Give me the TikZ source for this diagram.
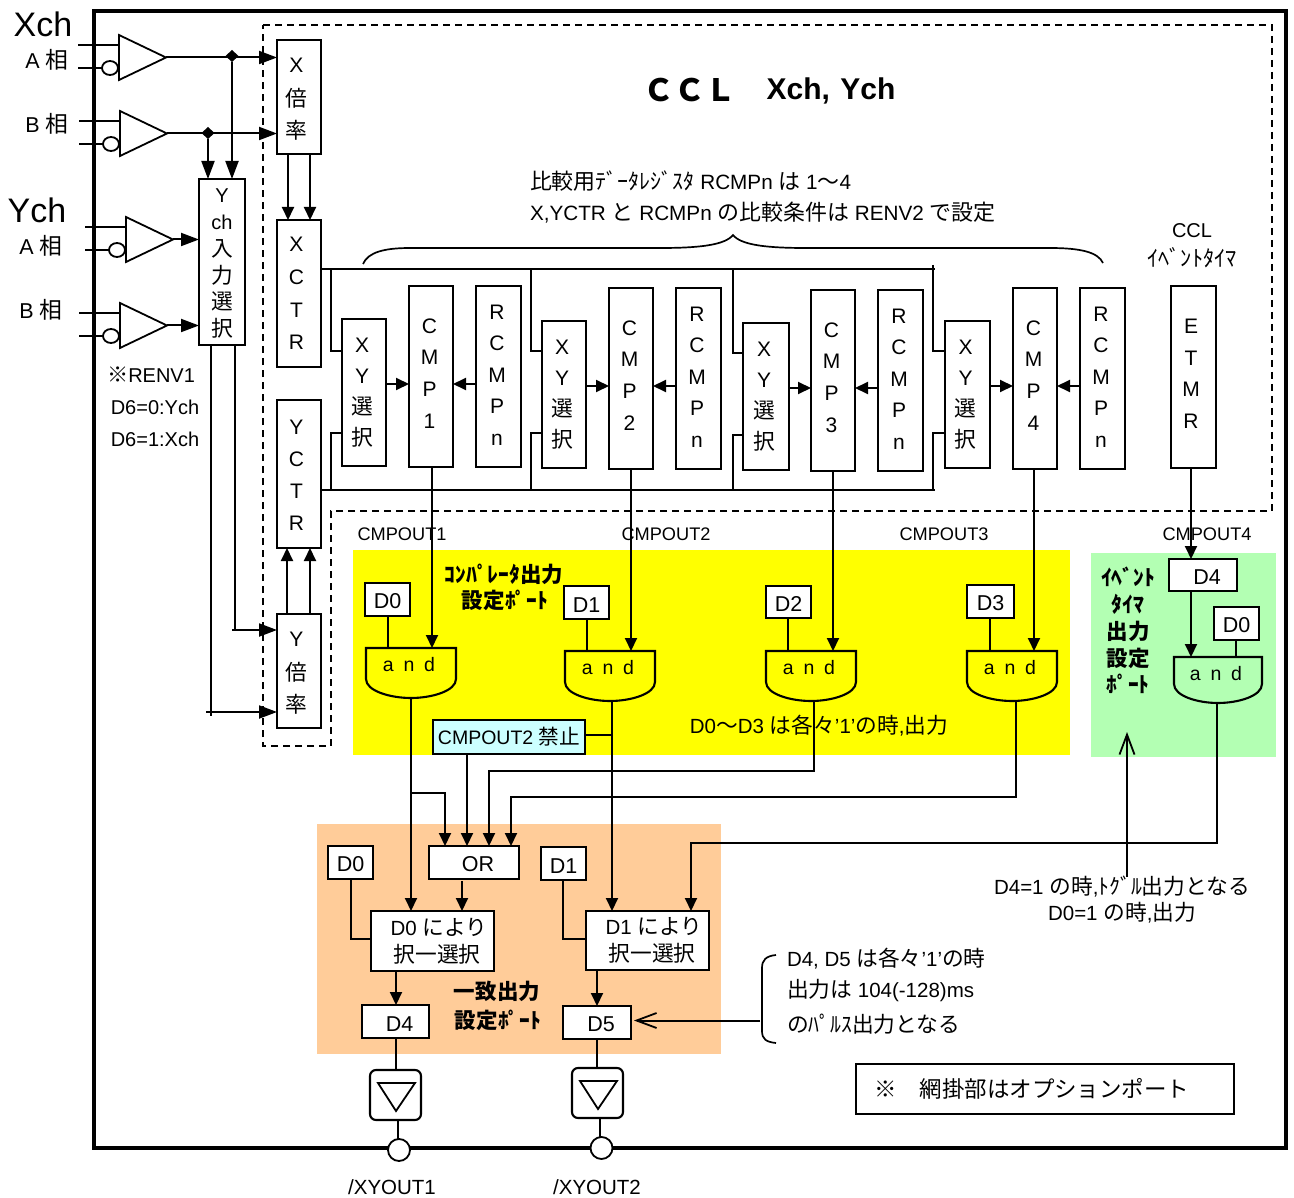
\documentclass[tikz,border=0pt]{standalone}
\usepackage{fontspec}
\setmainfont{Liberation Sans}
\newfontfamily\jp[Scale=1.06]{Noto Sans CJK JP}
\usetikzlibrary{arrows.meta,shapes.geometric,calc}
\definecolor{yelpad}{RGB}{255,255,0}
\definecolor{evgreen}{RGB}{179,255,179}
\definecolor{orangepad}{RGB}{255,204,153}
\definecolor{lightcy}{RGB}{204,255,255}
\newcommand\J[1]{{\jp #1}}
\newcommand\K[1]{{\jp\fontsize{20.5}{21}\selectfont #1}}
\newcommand\fs[2]{\fontsize{#1}{#2}\selectfont}
\newcommand\Zk[1]{\kern#1pt\relax}
\newcommand\Zt[1]{\rule{0pt}{#1pt}}
\newcommand\Zb[1]{\rule[-#1pt]{0pt}{#1pt}}
\tikzset{
  ta/.tip={Triangle[length=13pt,width=12pt]},
  tb/.tip={Triangle[length=18pt,width=13pt]},
  topen/.tip={Straight Barb[length=20pt,width=15pt,line width=1.8pt]},
  box/.style={draw,fill=white,line width=2.1pt,inner sep=0pt,outer sep=0pt},
  stk/.style={align=center,font=\fs{21}{32}},
  tx/.style={inner sep=0pt,outer sep=0pt,align=center,font=\fs{20.5}{22}},
  txl/.style={tx,anchor=west},
  hd/.style={inner sep=0pt,outer sep=0pt,font=\fs{20.3}{22}\bfseries},
  wire/.style={line width=2pt},
  dashbox/.style={line width=1.7pt,dash pattern=on 7pt off 5pt},
  gatebody/.style={line width=2.1pt,draw},
  hold/.style={inner sep=0pt,outer sep=0pt,rectangle},
  buf/.style={line width=1.8pt,draw,fill=white},
  bub/.style={draw,ellipse,line width=1.8pt,fill=white,minimum width=16pt,minimum height=14pt,inner sep=0pt,outer sep=0pt},
  jn/.style={diamond,fill=black,inner sep=0pt,outer sep=0pt,minimum width=13pt,minimum height=12pt},
  pad/.style={draw,circle,line width=1.8pt,fill=white,minimum size=22pt,inner sep=0pt,outer sep=0pt},
}
\newcommand\bx[7][]{\node[box,#1,minimum width={(#4-#2)*1pt},minimum height={(#5-#3)*1pt}] (#6) at ({(#2+#4)/2},{(#3+#5)/2}) {#7};}
% and gate: name, left x, top y, fill, width, height
\newcommand\gate[6]{%
  \path[gatebody,fill=#4] (#2,#3) -- (#2+#5,#3) -- (#2+#5,#3+#6-19) .. controls (#2+#5,#3+#6-7) and (#2+#5*0.73,#3+#6) .. (#2+#5/2,#3+#6) .. controls (#2+#5*0.27,#3+#6) and (#2,#3+#6-7) .. (#2,#3+#6-19) -- cycle;
  \node[hold,minimum width=#5 pt,minimum height=#6 pt] (#1) at (#2+#5/2,#3+#6/2) {};
  \node[tx,font=\fs{19.5}{20}] (#1t) at (#2+#5/2-2,#3+17) {a\hspace{.5em}n\hspace{.5em}d};
}
% buffer triangle: top-left x,y with two inputs
\newcommand\buff[4]{%
  \path[buf] (#2,#3) -- (#2+47,#3+22.5) -- (#2,#3+45) -- cycle;
  \coordinate (#1) at (#2+47,#3+22.5);
  \node[bub] (#1b) at (#2-9,#3+33) {};
  \coordinate (#1p) at (#4,#3+10);
  \coordinate (#1n) at (#4,#3+33);
  \draw[line width=1.7pt] (#1p) -- (#2,#3+10);
  \draw[line width=1.7pt] (#1n) -- (#1b.west);
}
% output driver
\newcommand\drv[3]{%
  \node[draw,rounded corners=6pt,line width=2.1pt,fill=white,minimum width=51pt,minimum height=50pt,inner sep=0pt,outer sep=0pt] (#1) at (#2+25.5,#3+25) {};
  \path[line width=1.8pt,draw] (#2+8,#3+13) -- (#2+45,#3+13) -- (#2+26,#3+41) -- cycle;
}
\begin{document}
\begin{tikzpicture}[x=1pt,y=-1pt]
\useasboundingbox (0,0) rectangle (1294,1198);
% shaded regions
\fill[yelpad] (353,550) rectangle (1070,755);
\fill[evgreen] (1091,553) rectangle (1276,757);
\fill[orangepad] (317,824) rectangle (721,1054);
% CCL dashed outline
\draw[dashbox] (263,25) -- (1272,25) -- (1272,511) -- (331,511) -- (331,746) -- (263,746) -- cycle;
% outer frame
\draw[line width=4.5pt] (94,11) rectangle (1286,1148);
% titles
\node[tx,font=\fs{34}{36}] (lxch) at (43,24) {Xch};
\node[tx,font=\fs{34}{36}] (lych) at (37,210) {Ych};
\node[tx,font=\fs{21.5}{24}] (la1) at (47,60) {A \J{相}};
\node[tx,font=\fs{21.5}{24}] (lb1) at (47,124) {B \J{相}};
\node[tx,font=\fs{21.5}{24}] (la2) at (41,246) {A \J{相}};
\node[tx,font=\fs{21.5}{24}] (lb2) at (41,310) {B \J{相}};
\node[tx,font=\fs{29}{32}\bfseries] (title1) at (690,90) {\J{ＣＣＬ}};
\node[tx,font=\fs{30}{32}\bfseries] (title2) at (831,91) {Xch,\hspace{.35em}Ych};
\node[txl,font=\fs{20.7}{22}] (cmt1) at (530,181) {\J{比較用ﾃﾞｰﾀﾚｼﾞｽﾀ} RCMPn \J{は} 1\J{～}4};
\node[txl,font=\fs{20.7}{22}] (cmt2) at (530,213) {X,YCTR \J{と} RCMPn \J{の比較条件は} RENV2 \J{で設定}};
\node[tx,font=\fs{20}{22}] (lccl) at (1192,231) {CCL};
\node[tx,font=\fs{21}{22}] (lev) at (1192,258) {\J{ｲﾍﾞﾝﾄﾀｲﾏ}};
\node[tx,font=\fs{20}{22}] (lrenv) at (151,375) {\J{※}RENV1};
\node[tx,font=\fs{20}{22}] (ld60) at (155,407) {D6=0:Ych};
\node[tx,font=\fs{20}{22}] (ld61) at (155,439) {D6=1:Xch};
% brace
\draw[line width=1.7pt] (363,264) .. controls (368,252) and (385,248) .. (410,248) -- (660,248) .. controls (700,248) and (725,245) .. (733,235) .. controls (741,245) and (766,248) .. (806,248) -- (1050,248) .. controls (1080,248) and (1098,252) .. (1103,263);
% input buffers
\buff{t1}{119}{35}{78}
\buff{t2}{120}{111}{79}
\buff{t3}{126}{217}{85}
\buff{t4}{120}{303}{79}
% blocks
\bx[stk]{277}{40}{321}{154}{xbai}{\Zt{20}\raisebox{1.5pt}{X}\Zk5\\\K{倍}\Zk5\\\K{率}\Zk5}
\bx[stk,font=\fs{21}{32.7}]{277}{220}{321}{367}{xctr}{X\Zk5\\C\Zk5\\T\Zk5\\R\Zk5}
\bx[stk]{277}{400}{321}{548}{yctr}{\Zt{17}Y\Zk5\\C\Zk5\\T\Zk5\\R\Zk5}
\bx[stk]{277}{614}{321}{728}{ybai}{\Zt{20}\raisebox{1.5pt}{Y}\Zk5\\\K{倍}\Zk5\\\K{率}\Zk5}
\bx[stk,font=\fs{20}{26.8}]{199}{179}{245}{345}{ysel}{\Zt{17}Y\\ch\\\K{入}\\\K{力}\\\K{選}\\\K{択}}
\bx[stk,font=\fs{21}{31}]{342}{319}{386}{466}{xy1}{X\Zk4\\Y\Zk4\\\K{選}\Zk4\\\K{択}\Zk4}
\bx[stk,font=\fs{21}{31}]{542}{321}{586}{468}{xy2}{X\Zk4\\Y\Zk4\\\K{選}\Zk4\\\K{択}\Zk4}
\bx[stk,font=\fs{21}{31}]{743}{323}{789}{470}{xy3}{X\Zk4\\Y\Zk4\\\K{選}\Zk4\\\K{択}\Zk4}
\bx[stk,font=\fs{21}{31}]{945}{321}{990}{468}{xy4}{X\Zk4\\Y\Zk4\\\K{選}\Zk4\\\K{択}\Zk4}
\bx[stk,font=\fs{21}{31.7}]{409}{286}{453}{467}{c1}{C\Zk3\\M\Zk3\\P\Zk3\\1\Zk3\Zb6}
\bx[stk,font=\fs{21}{31.7}]{609}{288}{653}{469}{c2}{C\Zk3\\M\Zk3\\P\Zk3\\2\Zk3\Zb6}
\bx[stk,font=\fs{21}{31.7}]{811}{290}{855}{471}{c3}{C\Zk3\\M\Zk3\\P\Zk3\\3\Zk3\Zb6}
\bx[stk,font=\fs{21}{31.7}]{1013}{288}{1057}{469}{c4}{C\Zk3\\M\Zk3\\P\Zk3\\4\Zk3\Zb6}
\bx[stk,font=\fs{21}{31.5}]{476}{286}{521}{467}{r1}{R\Zk3\\C\Zk3\\M\Zk3\\P\Zk3\\n\Zk3\Zb3}
\bx[stk,font=\fs{21}{31.5}]{676}{288}{721}{469}{r2}{R\Zk3\\C\Zk3\\M\Zk3\\P\Zk3\\n\Zk3\Zb3}
\bx[stk,font=\fs{21}{31.5}]{878}{290}{923}{471}{r3}{R\Zk3\\C\Zk3\\M\Zk3\\P\Zk3\\n\Zk3\Zb3}
\bx[stk,font=\fs{21}{31.5}]{1080}{288}{1125}{469}{r4}{R\Zk3\\C\Zk3\\M\Zk3\\P\Zk3\\n\Zk3\Zb3}
\bx[stk,font=\fs{21}{31.5}]{1171}{286}{1216}{468}{etmr}{E\Zk5\\T\Zk5\\M\Zk5\\R\Zk5\Zb6}
% input wiring
\node[jn] (j1) at (232,56) {};
\node[jn] (j2) at (208,133) {};
\draw[wire,-tb] (t1) -- (xbai.west |- t1);
\draw[wire,-tb] (t2) -- (xbai.west |- t2);
\draw[wire,-tb] (j1) -- (j1 |- ysel.north);
\draw[wire,-tb] (j2) -- (j2 |- ysel.north);
\draw[wire,-tb] (t3) -- (ysel.west |- t3);
\draw[wire,-tb] (t4) -- (ysel.west |- t4);
\draw[wire,-ta] (288,0 |- xbai.south) -- (288,0 |- xctr.north);
\draw[wire,-ta] (310,0 |- xbai.south) -- (310,0 |- xctr.north);
\draw[wire,-ta] (287,0 |- ybai.north) -- (287,0 |- yctr.south);
\draw[wire,-ta] (310,0 |- ybai.north) -- (310,0 |- yctr.south);
\draw[wire] (235,0 |- ysel.south) -- (235,630);
\draw[wire,-tb] (232,630) -- (ybai.west |- 0,630);
\draw[wire] (211,0 |- ysel.south) -- (211,716);
\draw[wire,-tb] (206,712) -- (ybai.west |- 0,712);
% CTR buses
\draw[wire] (xctr.east |- 0,269) -- (935,269);
\draw[wire] (yctr.east |- 0,490) -- (935,490);
\draw[wire] (331,269) -- (331,351) -- (xy1.west |- 0,351);
\draw[wire] (331,490) -- (331,433) -- (xy1.west |- 0,433);
\draw[wire] (531,269) -- (531,351) -- (xy2.west |- 0,351);
\draw[wire] (531,490) -- (531,433) -- (xy2.west |- 0,433);
\draw[wire] (733,269) -- (733,353) -- (xy3.west |- 0,353);
\draw[wire] (733,490) -- (733,435) -- (xy3.west |- 0,435);
\draw[wire] (933,265) -- (933,351) -- (xy4.west |- 0,351);
\draw[wire] (933,490) -- (933,433) -- (xy4.west |- 0,433);
% compare inputs
\draw[wire,-ta] (xy1.east |- 0,384) -- (c1.west |- 0,384);
\draw[wire,-ta] (r1.west |- 0,384) -- (c1.east |- 0,384);
\draw[wire,-ta] (xy2.east |- 0,386) -- (c2.west |- 0,386);
\draw[wire,-ta] (r2.west |- 0,386) -- (c2.east |- 0,386);
\draw[wire,-ta] (xy3.east |- 0,388) -- (c3.west |- 0,388);
\draw[wire,-ta] (r3.west |- 0,388) -- (c3.east |- 0,388);
\draw[wire,-ta] (xy4.east |- 0,386) -- (c4.west |- 0,386);
\draw[wire,-ta] (r4.west |- 0,386) -- (c4.east |- 0,386);
% CMPOUT labels
\node[tx,font=\fs{18.2}{20}] (lo1) at (402,534) {CMPOUT1};
\node[tx,font=\fs{18.2}{20}] (lo2) at (666,534) {CMPOUT2};
\node[tx,font=\fs{18.2}{20}] (lo3) at (944,534) {CMPOUT3};
\node[tx,font=\fs{18.2}{20}] (lo4) at (1207,534) {CMPOUT4};
% port bits
\bx[tx,font=\fs{21.5}{24}]{365}{583}{410}{616}{d0}{\Zt{19}D0}
\bx[tx,font=\fs{21.5}{24}]{564}{586}{609}{619}{d1}{\Zt{19}D1}
\bx[tx,font=\fs{21.5}{24}]{766}{586}{811}{618}{d2}{\Zt{19}D2}
\bx[tx,font=\fs{21.5}{24}]{967}{585}{1014}{618}{d3}{\Zt{19}D3}
\gate{g1}{366}{648}{yelpad}{90}{50}
\gate{g2}{565}{651}{yelpad}{90}{50}
\gate{g3}{766}{651}{yelpad}{90}{50}
\gate{g4}{967}{651}{yelpad}{90}{50}
\gate{g5}{1174}{657}{evgreen}{88}{46}
\draw[wire] (388,0 |- d0.south) -- (388,0 |- g1.north);
\draw[wire] (587,0 |- d1.south) -- (587,0 |- g2.north);
\draw[wire] (788,0 |- d2.south) -- (788,0 |- g3.north);
\draw[wire] (990,0 |- d3.south) -- (990,0 |- g4.north);
\draw[wire,-ta] (432,0 |- c1.south) -- (432,0 |- g1.north);
\draw[wire,-ta] (631,0 |- c2.south) -- (631,0 |- g2.north);
\draw[wire,-ta] (833,0 |- c3.south) -- (833,0 |- g3.north);
\draw[wire,-ta] (1034,0 |- c4.south) -- (1034,0 |- g4.north);
\node[hd] (ly1) at (504,574) {\J{ｺﾝﾊﾟﾚｰﾀ出力}};
\node[hd] (ly2) at (505,600) {\J{設定ﾎﾟｰﾄ}};
\node[tx] (ly3) at (819,726) {D0\J{～}D3 \J{は各々}'1'\J{の時},\J{出力}};
\bx[tx,fill=lightcy,font=\fs{19.5}{22}]{433}{720}{585}{754}{nc}{CMPOUT2 \J{禁止}}
% event timer port
\bx[tx,font=\fs{21.5}{24}]{1169}{559}{1237}{591}{e4}{\Zt{18}\hspace{8pt}D4}
\bx[tx,font=\fs{21.5}{24}]{1214}{607}{1259}{640}{e0}{\Zt{18}D0}
\draw[wire,-ta] (1191,0 |- etmr.south) -- (1191,0 |- e4.north);
\draw[wire,-ta] (1191,0 |- e4.south) -- (1191,0 |- g5.north);
\draw[wire] (1236,0 |- e0.south) -- (1236,0 |- g5.north);
\node[hd] (le1) at (1128,577) {\J{ｲﾍﾞﾝﾄ}};
\node[hd] (le2) at (1128,604) {\J{ﾀｲﾏ}};
\node[hd] (le3) at (1128,631) {\J{出力}};
\node[hd] (le4) at (1128,658) {\J{設定}};
\node[hd] (le5) at (1128,684) {\J{ﾎﾟｰﾄ}};
% coincidence output port
\bx[tx,font=\fs{21.5}{24}]{328}{846}{373}{879}{o0}{\Zt{19}D0}
\bx[tx,font=\fs{21.5}{24}]{541}{847}{586}{880}{o1}{\Zt{19}D1}
\bx[tx,font=\fs{21.5}{24}]{429}{846}{519}{879}{orb}{\Zt{19}\hspace{8pt}OR}
\bx[tx,font=\fs{20.5}{27}]{371}{911}{494}{971}{m1}{\Zk7 D0 \J{により}\\\Zk9\J{択一選択}}
\bx[tx,font=\fs{20.5}{27}]{586}{911}{709}{970}{m2}{\Zk7 D1 \J{により}\\\Zk9\J{択一選択}}
\bx[tx,font=\fs{21.5}{24}]{362}{1005}{429}{1038}{d4}{\Zt{19}\hspace{8pt}D4}
\bx[tx,font=\fs{21.5}{24}]{563}{1006}{631}{1039}{d5}{\Zt{19}\hspace{8pt}D5}
\draw[wire,-ta] (411,0 |- g1.south) -- (411,0 |- m1.north);
\draw[wire,-ta] (612,0 |- g2.south) -- (612,0 |- m2.north);
\draw[wire] (nc.east |- 0,735) -- (612,735);
\draw[wire,-ta] (411,793) -- (445,793) -- (445,0 |- orb.north);
\draw[wire,-ta] (467,0 |- nc.south) -- (467,0 |- orb.north);
\draw[wire,-ta] (814,0 |- g3.south) -- (814,771) -- (489,771) -- (489,0 |- orb.north);
\draw[wire,-ta] (1016,0 |- g4.south) -- (1016,797) -- (511,797) -- (511,0 |- orb.north);
\draw[wire,-ta] (462,881) -- (462,0 |- m1.north);
\draw[wire] (351,0 |- o0.south) -- (351,939) -- (m1.west |- 0,939);
\draw[wire] (563,0 |- o1.south) -- (563,939) -- (m2.west |- 0,939);
\draw[wire,-ta] (1217,0 |- g5.south) -- (1217,843) -- (691,843) -- (691,0 |- m2.north);
\draw[wire,-ta] (396,0 |- m1.south) -- (396,0 |- d4.north);
\draw[wire,-ta] (597,0 |- m2.south) -- (597,0 |- d5.north);
\node[hd] (lo5) at (497,991) {\J{一致出力}};
\node[hd] (lo6) at (498,1020) {\J{設定ﾎﾟｰﾄ}};
% output drivers
\drv{dv1}{370}{1070}
\drv{dv2}{572}{1068}
\node[pad] (p1) at (399,1150) {};
\node[pad] (p2) at (601.5,1148) {};
\draw[wire] (396,0 |- d4.south) -- (396,0 |- dv1.north);
\draw[wire] (597,0 |- d5.south) -- (597,0 |- dv2.north);
\draw[wire] (398,0 |- dv1.south) -- (398,0 |- p1.north);
\draw[wire] (600,0 |- dv2.south) -- (600,0 |- p2.north);
\node[tx,font=\fs{20.5}{22}] (lx1) at (392,1187) {/XYOUT1};
\node[tx,font=\fs{20.5}{22}] (lx2) at (597,1187) {/XYOUT2};
% notes
\node[tx] (nt1) at (1122,887) {D4=1 \J{の時},\J{ﾄｸﾞﾙ出力となる}};
\node[tx] (nt2) at (1122,913) {D0=1 \J{の時},\J{出力}};
\coordinate (nt1a) at (1127,877);
\coordinate (upt) at (1127,732);
\draw[wire,-topen] (nt1a) -- (upt);
\node[txl] (nb1) at (787,959) {D4, D5 \J{は各々}'1'\J{の時}};
\node[txl] (nb2) at (787,991) {\J{出力は} 104(-128)ms};
\node[txl] (nb3) at (787,1024) {\J{のﾊﾟﾙｽ出力となる}};
\draw[line width=1.7pt] (776,955) .. controls (766,956) and (762,960) .. (762,968) -- (762,1031) .. controls (762,1039) and (766,1042) .. (776,1043);
\coordinate (brk) at (760,1020.5);
\coordinate (brktip) at (634,1020.5);
\draw[wire,-topen] (brk) -- (brktip);
\bx[tx,line width=2.2pt,font=\fs{21.2}{25}]{856}{1064}{1234}{1114}{note}{\J{※　網掛部はオプションポート}\Zk{26}}
\end{tikzpicture}
\end{document}
